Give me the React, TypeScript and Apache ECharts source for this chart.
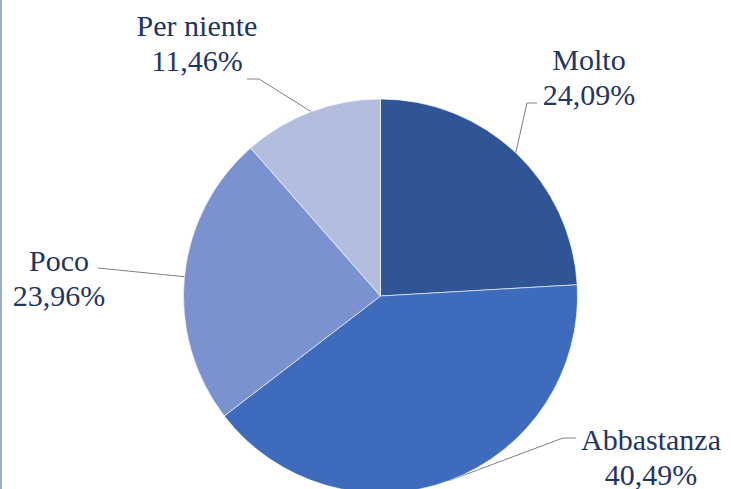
import React, { useEffect, useRef } from "react";
import * as echarts from "echarts";

const categories = ["Molto", "Abbastanza", "Poco", "Per niente"];
const values = [24.09, 40.49, 23.96, 11.46];
const colors = ["#2f5597", "#3e6bbb", "#7a92d0", "#b2bde0"];

// label text centers: [x, y of first line]; second line 35px lower
const labelPos: [number, number][] = [
  [589, 59],
  [651, 439],
  [59, 260],
  [197, 25],
];
const elbows: [number, number][][] = [
  [[527, 103], [537, 103]],
  [[563, 438], [576, 438]],
  [[98, 268]],
  [[259, 79], [247, 79]],
];

const FONT = "Liberation Serif";
const TEXT_COLOR = "#1f3566";
const LINE_GAP = 35;

const fmtPct = (v: number) => v.toFixed(2).replace(".", ",") + "%";

export default function App() {
  const ref = useRef<HTMLDivElement>(null);
  useEffect(() => {
    if (!ref.current) return;
    const chart = echarts.init(ref.current, undefined, { renderer: "svg" });
    const textEls: any[] = [];
    categories.forEach((c, i) => {
      const [x, y] = labelPos[i];
      [c, fmtPct(values[i])].forEach((t, k) => {
        textEls.push({
          type: "text",
          x,
          y: y + k * LINE_GAP,
          silent: true,
          z: 10,
          style: {
            text: t,
            fontFamily: FONT,
            fontSize: 30,
            fill: TEXT_COLOR,
            textAlign: "center",
            textVerticalAlign: "middle",
          },
        });
      });
    });
    chart.setOption({
      animation: false,
      backgroundColor: "#ffffff",
      graphic: [
        {
          type: "rect",
          shape: { x: 0, y: 0, width: 2, height: 489 },
          style: { fill: "#9ab0d6" },
          silent: true,
        },
        ...textEls,
      ],
      series: [
        {
          type: "pie",
          center: [380.5, 296],
          radius: 197,
          startAngle: 90,
          clockwise: true,
          data: categories.map((c, i) => ({
            name: c,
            value: values[i],
            itemStyle: { color: colors[i] },
          })),
          itemStyle: { borderColor: "#ffffff", borderWidth: 0.6 },
          label: {
            show: true,
            position: "outside",
            formatter: " ",
            fontSize: 8,
            color: "rgba(0,0,0,0)",
          },
          labelLine: {
            show: true,
            lineStyle: { color: "#808080", width: 1 },
          },
          labelLayout: (params: any) => {
            const i = params.dataIndex;
            const start = params.labelLinePoints ? params.labelLinePoints[0] : null;
            const end = elbows[i][elbows[i].length - 1];
            return {
              x: end[0],
              y: end[1],
              labelLinePoints: start ? [start, ...elbows[i]] : undefined,
            };
          },
          emphasis: { disabled: true },
        },
      ],
    });
    return () => chart.dispose();
  }, []);
  return (
    <div
      ref={ref}
      style={{ position: "fixed", left: 0, top: 0, width: 731, height: 489 }}
    />
  );
}
